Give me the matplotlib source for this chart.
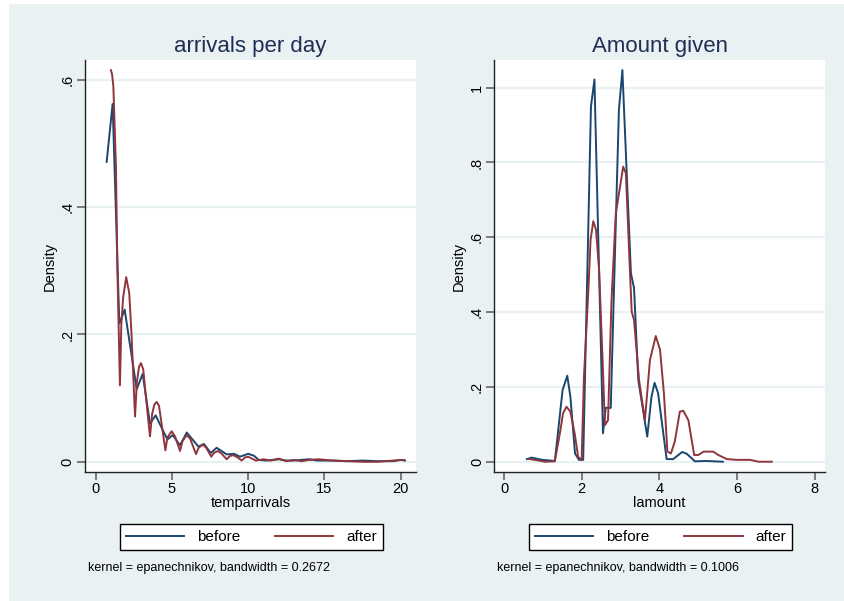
import matplotlib.pyplot as plt
from matplotlib.lines import Line2D
from matplotlib.patches import Rectangle

# ---- data ----
# left panel: temparrivals
arr_before_x = [0.72, 1.11, 1.55, 1.90, 2.69, 3.08, 3.56, 3.93, 4.70, 5.05, 5.53, 5.97,
                6.73, 7.10, 7.54, 7.93, 8.59, 9.07, 9.46, 10.0, 10.38, 10.69, 11.2, 12.0,
                12.5, 13.0, 14.0, 14.5, 15.5, 16.5, 17.5, 18.5, 19.5, 20.0, 20.28]
arr_before_y = [0.471, 0.562, 0.217, 0.239, 0.114, 0.138, 0.060, 0.073, 0.035, 0.042, 0.026, 0.046,
                0.024, 0.028, 0.014, 0.022, 0.0116, 0.0126, 0.008, 0.0126, 0.0095, 0.003, 0.002, 0.004,
                0.002, 0.002, 0.004, 0.002, 0.002, 0.001, 0.002, 0.001, 0.001, 0.003, 0.002]

arr_after_x = [1.0, 1.08, 1.16, 1.33, 1.42, 1.59, 1.68, 1.8, 2.0, 2.2, 2.35, 2.58, 2.7, 2.85,
               2.97, 3.12, 3.3, 3.56, 3.7, 3.85, 4.0, 4.15, 4.35, 4.57, 4.7, 4.98, 5.2, 5.53,
               5.7, 5.97, 6.2, 6.58, 6.75, 7.02, 7.25, 7.58, 7.75, 8.02, 8.25, 8.59, 8.8, 9.02,
               9.3, 9.57, 9.8, 10.0, 10.25, 10.5, 11.0, 11.5, 12.0, 12.5, 13.0, 13.5, 14.0,
               14.6, 15.5, 16.5, 17.5, 18.5, 19.5, 19.95, 20.2]
arr_after_y = [0.615, 0.608, 0.589, 0.463, 0.306, 0.120, 0.215, 0.258, 0.290, 0.265, 0.200, 0.071,
               0.125, 0.150, 0.155, 0.145, 0.100, 0.040, 0.075, 0.090, 0.094, 0.088, 0.055, 0.018,
               0.038, 0.048, 0.040, 0.017, 0.033, 0.042, 0.036, 0.012, 0.022, 0.027, 0.022, 0.008,
               0.014, 0.017, 0.013, 0.004, 0.009, 0.0105, 0.007, 0.002, 0.007, 0.008, 0.005, 0.002,
               0.004, 0.002, 0.005, 0.001, 0.003, 0.001, 0.003, 0.004, 0.002, 0.001, 0.0, 0.0,
               0.002, 0.0027, 0.003]

# right panel: lamount
amt_before_x = [0.59, 0.71, 0.98, 1.31, 1.51, 1.63, 1.71, 1.83, 1.93, 2.04, 2.24, 2.33, 2.55,
                2.62, 2.75, 2.96, 3.05, 3.27, 3.35, 3.46, 3.69, 3.80, 3.88, 3.97, 4.19, 4.36,
                4.59, 4.71, 4.92, 5.2, 5.64]
amt_before_y = [0.007, 0.011, 0.005, 0.002, 0.192, 0.230, 0.174, 0.022, 0.005, 0.005, 0.949, 1.022,
                0.076, 0.144, 0.144, 0.940, 1.047, 0.504, 0.464, 0.218, 0.067, 0.174, 0.211, 0.183,
                0.007, 0.007, 0.026, 0.021, 0.001, 0.002, 0.0]

amt_after_x = [0.66, 0.85, 1.05, 1.31, 1.44, 1.52, 1.61, 1.71, 1.82, 1.91, 2.0, 2.06, 2.17, 2.23,
               2.30, 2.37, 2.45, 2.54, 2.60, 2.68, 2.77, 2.88, 2.99, 3.07, 3.14, 3.24, 3.29, 3.35,
               3.48, 3.63, 3.76, 3.91, 4.02, 4.12, 4.21, 4.30, 4.40, 4.53, 4.62, 4.75, 4.90, 5.01,
               5.14, 5.39, 5.52, 5.74, 6.0, 6.34, 6.56, 6.90]
amt_after_y = [0.007, 0.004, 0.0, 0.001, 0.076, 0.129, 0.147, 0.134, 0.076, 0.013, 0.005, 0.227,
               0.450, 0.593, 0.643, 0.620, 0.513, 0.272, 0.098, 0.111, 0.432, 0.664, 0.735, 0.789,
               0.771, 0.521, 0.401, 0.379, 0.218, 0.111, 0.272, 0.336, 0.299, 0.183, 0.027, 0.022,
               0.054, 0.134, 0.136, 0.111, 0.018, 0.018, 0.027, 0.027, 0.018, 0.007, 0.005, 0.005,
               0.0, 0.0]

titles = ['arrivals per day', 'Amount given']
xlabels = ['temparrivals', 'lamount']
notes = ['kernel = epanechnikov, bandwidth = 0.2672',
         'kernel = epanechnikov, bandwidth = 0.1006']
left_yticks = [0, 0.2, 0.4, 0.6]
left_ylabels = ['0', '.2', '.4', '.6']
right_yticks = [0, 0.2, 0.4, 0.6, 0.8, 1.0]
right_ylabels = ['0', '.2', '.4', '.6', '.8', '1']
left_xticks = [0, 5, 10, 15, 20]
right_xticks = [0, 2, 4, 6, 8]

BLUE = '#1A476F'
RED = '#90353B'
BG = '#EAF1F3'
TITLE_C = '#1F2E55'

plt.rcParams['font.family'] = ['Liberation Sans', 'DejaVu Sans']

W, H = 844, 601
fig = plt.figure(figsize=(W / 100, H / 100), dpi=100, facecolor='white')
fig.add_artist(Rectangle((9 / W, 0), 1 - 9 / W, 1 - 4 / H, transform=fig.transFigure,
                         facecolor=BG, edgecolor='none', zorder=-5))


def px_box(x0, x1, ytop, ybot):
    return [x0 / W, (H - ybot) / H, (x1 - x0) / W, (ybot - ytop) / H]


panels = [
    dict(box=px_box(85, 416, 60, 472), xlim=(-0.70, 21.0), ylim=(-0.016, 0.631),
         bx=arr_before_x, by=arr_before_y, ax_=arr_after_x, ay=arr_after_y,
         yt=left_yticks, yl=left_ylabels, xt=left_xticks),
    dict(box=px_box(494.3, 825, 60, 472), xlim=(-0.25, 8.27), ylim=(-0.0275, 1.074),
         bx=amt_before_x, by=amt_before_y, ax_=amt_after_x, ay=amt_after_y,
         yt=right_yticks, yl=right_ylabels, xt=right_xticks),
]

for i, p in enumerate(panels):
    ax = fig.add_axes(p['box'])
    ax.set_facecolor('white')
    ax.plot(p['bx'], p['by'], color=BLUE, lw=1.4, zorder=3)
    ax.plot(p['ax_'], p['ay'], color=RED, lw=1.4, zorder=3)
    ax.set_xlim(*p['xlim'])
    ax.set_ylim(*p['ylim'])
    ax.set_yticks(p['yt'])
    ax.set_yticklabels(p['yl'], rotation=90, va='center')
    ax.set_xticks(p['xt'])
    for y in p['yt']:
        ax.axhline(y, color=BG, lw=1.6, zorder=1)
    for s in ['top', 'right']:
        ax.spines[s].set_visible(False)
    for s in ['left', 'bottom']:
        ax.spines[s].set_color('#222222')
        ax.spines[s].set_linewidth(1.0)
    ax.tick_params(length=5.5, width=1.2, color='#666666', labelsize=10.5, pad=2)
    ax.set_ylabel('Density', fontsize=10.5, labelpad=3)
    ax.set_xlabel(xlabels[i], fontsize=10.5, labelpad=0)

    bx0 = p['box'][0] * W
    bx1 = bx0 + p['box'][2] * W
    cx = (bx0 + bx1) / 2
    fig.text(cx / W, 1 - 46.7 / H, titles[i], ha='center', va='center',
             fontsize=16, color=TITLE_C)
    handles = [Line2D([], [], color=BLUE, lw=1.4), Line2D([], [], color=RED, lw=1.4)]
    leg = fig.legend(handles, ['before', 'after'], loc='center', ncol=2,
                     bbox_to_anchor=((cx + 1) / W, 1 - 537 / H), fontsize=11,
                     frameon=True, fancybox=False, framealpha=1, handlelength=3.8,
                     handletextpad=0.85, columnspacing=2.3, borderpad=0.4, borderaxespad=0)
    leg.get_frame().set_edgecolor('black')
    leg.get_frame().set_linewidth(1.0)
    leg.get_frame().set_facecolor('white')
    fig.text((bx0 + 2.7) / W, 1 - 568 / H, notes[i], ha='left', va='center', fontsize=9)

fig.savefig('out.png', dpi=100, facecolor='white')
